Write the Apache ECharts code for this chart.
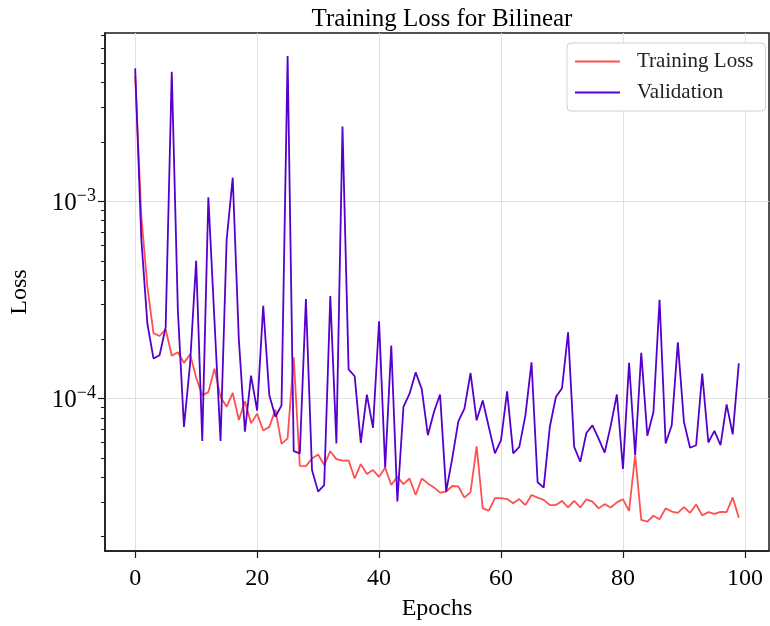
<!DOCTYPE html>
<html>
<head>
<meta charset="utf-8">
<script src="https://cdn.jsdelivr.net/npm/echarts@6/dist/echarts.min.js"></script>
<style>
html,body{margin:0;padding:0;background:#fff;}
#chart{width:770px;height:626px;}
</style>
</head>
<body>
<div id="chart"></div>
<script>
// ---- data ----
const trainLoss = [
  4.3e-3, 8.5e-4, 3.7e-4, 2.15e-4, 2.08e-4, 2.25e-4, 1.65e-4, 1.72e-4, 1.52e-4, 1.68e-4,
  1.28e-4, 1.04e-4, 1.08e-4, 1.42e-4, 1.02e-4, 9.1e-5, 1.07e-4, 7.8e-5, 9.7e-5, 7.5e-5,
  8.4e-5, 6.9e-5, 7.2e-5, 8.8e-5, 5.9e-5, 6.3e-5, 1.62e-4, 4.57e-5, 4.55e-5, 4.98e-5,
  5.21e-5, 4.61e-5, 5.42e-5, 4.94e-5, 4.85e-5, 4.87e-5, 3.94e-5, 4.66e-5, 4.15e-5, 4.35e-5,
  4.02e-5, 4.47e-5, 3.65e-5, 4.02e-5, 3.69e-5, 3.94e-5, 3.25e-5, 3.94e-5, 3.72e-5, 3.55e-5,
  3.34e-5, 3.38e-5, 3.61e-5, 3.59e-5, 3.15e-5, 3.36e-5, 5.74e-5, 2.78e-5, 2.71e-5, 3.13e-5,
  3.13e-5, 3.1e-5, 2.95e-5, 3.1e-5, 2.89e-5, 3.25e-5, 3.15e-5, 3.07e-5, 2.89e-5, 2.89e-5,
  3.03e-5, 2.81e-5, 3.03e-5, 2.81e-5, 3.09e-5, 3.01e-5, 2.78e-5, 2.92e-5, 2.81e-5, 2.98e-5,
  3.09e-5, 2.7e-5, 5.17e-5, 2.43e-5, 2.38e-5, 2.55e-5, 2.45e-5, 2.78e-5, 2.68e-5, 2.64e-5,
  2.82e-5, 2.64e-5, 2.91e-5, 2.56e-5, 2.66e-5, 2.61e-5, 2.67e-5, 2.66e-5, 3.16e-5, 2.49e-5
];
const validationLoss = [
  4.73e-3, 6.5e-4, 2.4e-4, 1.6e-4, 1.66e-4, 2.3e-4, 4.55e-3, 2.8e-4, 7.2e-5, 1.5e-4,
  5.0e-4, 6.1e-5, 1.05e-3, 2.5e-4, 6.1e-5, 6.4e-4, 1.32e-3, 2.0e-4, 6.8e-5, 1.31e-4,
  8.7e-5, 2.96e-4, 1.04e-4, 8.1e-5, 9.25e-5, 5.46e-3, 5.42e-5, 5.28e-5, 3.2e-4, 4.35e-5,
  3.38e-5, 3.65e-5, 3.32e-4, 5.93e-5, 2.4e-3, 1.41e-4, 1.3e-4, 5.97e-5, 1.05e-4, 7.11e-5,
  2.47e-4, 4.47e-5, 1.86e-4, 3.01e-5, 9.08e-5, 1.06e-4, 1.36e-4, 1.12e-4, 6.53e-5, 8.57e-5,
  1.05e-4, 3.38e-5, 4.98e-5, 7.68e-5, 8.9e-5, 1.35e-4, 7.77e-5, 9.8e-5, 7.19e-5, 5.28e-5,
  6.16e-5, 1.09e-4, 5.28e-5, 5.7e-5, 8.24e-5, 1.53e-4, 3.77e-5, 3.54e-5, 7.19e-5, 1.02e-4,
  1.13e-4, 2.17e-4, 5.7e-5, 4.79e-5, 6.7e-5, 7.33e-5, 6.28e-5, 5.33e-5, 7.33e-5, 1.05e-4,
  4.4e-5, 1.52e-4, 5.17e-5, 1.71e-4, 6.48e-5, 8.57e-5, 3.17e-4, 5.93e-5, 7.33e-5, 1.93e-4,
  7.63e-5, 5.64e-5, 5.81e-5, 1.34e-4, 6.0e-5, 6.87e-5, 5.81e-5, 9.36e-5, 6.6e-5, 1.51e-4
];
const xTicks = [0, 20, 40, 60, 80, 100];
const yMajorTicks = [1e-4, 1e-3];
const yMinorTicks = [2e-5, 3e-5, 4e-5, 5e-5, 6e-5, 7e-5, 8e-5, 9e-5,
                     2e-4, 3e-4, 4e-4, 5e-4, 6e-4, 7e-4, 8e-4, 9e-4,
                     2e-3, 3e-3, 4e-3, 5e-3, 6e-3, 7e-3];
const seriesNames = ['Training Loss', 'Validation'];

// ---- chart ----
const FONT = '"Liberation Serif", "DejaVu Serif", serif';
const X_MIN = -4.95, X_MAX = 103.95;
const Y_MIN = 1.69e-5, Y_MAX = 7.15e-3;

const chart = echarts.init(document.getElementById('chart'), null, {renderer: 'canvas'});
const toPairs = arr => arr.map((v, i) => [i, v]);

chart.setOption({
  animation: false,
  backgroundColor: '#ffffff',
  title: {
    text: 'Training Loss for Bilinear',
    left: 437, top: 2, textAlign: 'center',
    textStyle: {fontFamily: FONT, fontSize: 25, fontWeight: 'normal', color: '#000'}
  },
  legend: {
    data: seriesNames,
    orient: 'vertical',
    left: 567, top: 43,
    padding: [8, 12, 8, 8],
    itemGap: 10,
    itemWidth: 45, itemHeight: 2,
    icon: 'rect',
    backgroundColor: '#fff',
    borderColor: '#d0d0d0', borderWidth: 1, borderRadius: 4,
    textStyle: {fontFamily: FONT, fontSize: 21, color: '#222', padding: [0, 0, 0, 12]}
  },
  grid: {
    left: 103, right: 1, top: 33, bottom: 73,
    show: true, borderColor: '#1a1a1a', borderWidth: 1.5, backgroundColor: 'transparent'
  },
  xAxis: {
    type: 'value', min: X_MIN, max: X_MAX,
    name: 'Epochs', nameLocation: 'middle', nameGap: 46,
    nameTextStyle: {fontFamily: FONT, fontSize: 24, color: '#000'},
    axisLine: {show: true, onZero: false, lineStyle: {color: '#1a1a1a', width: 1.5}},
    axisTick: {show: true, customValues: xTicks, length: 7, lineStyle: {color: '#1a1a1a', width: 1.2}},
    axisLabel: {customValues: xTicks, margin: 16, fontFamily: FONT, fontSize: 24, color: '#000'},
    splitLine: {show: true, lineStyle: {color: '#e0e0e0', width: 1}}
  },
  yAxis: [{
    type: 'log', min: Y_MIN, max: Y_MAX, logBase: 10,
    name: 'Loss', nameLocation: 'middle', nameGap: 73,
    nameTextStyle: {fontFamily: FONT, fontSize: 24, color: '#000'},
    axisLine: {show: true, onZero: false, lineStyle: {color: '#1a1a1a', width: 1.5}},
    axisTick: {show: true, customValues: yMajorTicks, length: 7, lineStyle: {color: '#1a1a1a', width: 1.2}},
    axisLabel: {
      customValues: yMajorTicks, margin: 9,
      formatter: v => '{b|10}{s|\u2212' + Math.round(-Math.log10(v)) + '}',
      rich: {
        b: {fontFamily: FONT, fontSize: 25, color: '#000', lineHeight: 28, verticalAlign: 'bottom'},
        s: {fontFamily: FONT, fontSize: 18, color: '#000', lineHeight: 18, verticalAlign: 'top'}
      }
    },
    splitLine: {show: true, lineStyle: {color: '#e0e0e0', width: 1}},
    minorTick: {show: false}
  }, {
    type: 'log', min: Y_MIN, max: Y_MAX, logBase: 10, position: 'left',
    axisLine: {show: false, onZero: false},
    axisTick: {show: true, customValues: yMinorTicks, length: 4, lineStyle: {color: '#1a1a1a', width: 1}},
    axisLabel: {show: false},
    splitLine: {show: false}
  }],
  series: [{
    name: seriesNames[0], type: 'line', data: toPairs(trainLoss),
    showSymbol: false, symbol: 'none',
    lineStyle: {color: '#ff5050', width: 1.8}, itemStyle: {color: '#ff5050'}
  }, {
    name: seriesNames[1], type: 'line', data: toPairs(validationLoss),
    showSymbol: false, symbol: 'none',
    lineStyle: {color: '#5500cc', width: 1.8}, itemStyle: {color: '#5500cc'}
  }]
});
</script>
</body>
</html>
